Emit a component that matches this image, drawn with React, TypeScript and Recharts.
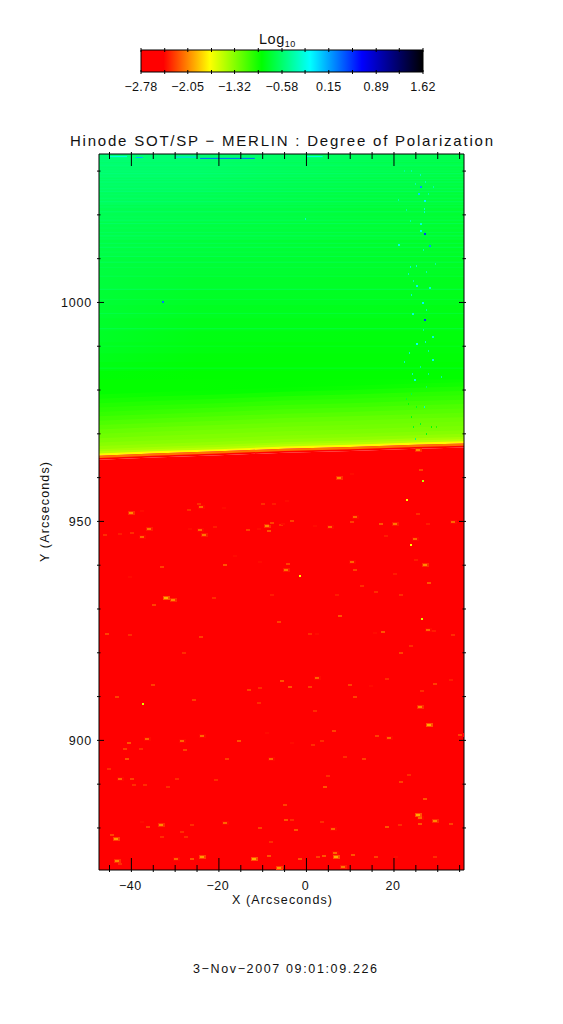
import React from "react";
import { ComposedChart, Area, Scatter, XAxis, YAxis, ReferenceLine } from "recharts";

const FONT = "'Liberation Sans', Arial, sans-serif";
const titleText = "Hinode SOT/SP − MERLIN : Degree of Polarization";
const xTitleText = "X (Arcseconds)";
const yTitleText = "Y (Arcseconds)";
const footerText = "3−Nov−2007 09:01:09.226";

const xDomain = [-47.4, 36];
const yDomain = [870.4, 1033.9];
const xTicks = [-45, -40, -35, -30, -25, -20, -15, -10, -5, 0, 5, 10, 15, 20, 25, 30, 35];
const xMajor = [-40, -20, 0, 20];
const yTicks = [880, 890, 900, 910, 920, 930, 940, 950, 960, 970, 980, 990, 1000, 1010, 1020, 1030];
const yMajor = [900, 950, 1000];

const barTicks = [-2.78, -2.41, -2.05, -1.68, -1.32, -0.95, -0.58, -0.22, 0.15, 0.52, 0.89, 1.25, 1.62];
const barLabels: Record<string, string> = { "-2.78": "−2.78", "-2.05": "−2.05", "-1.32": "−1.32", "-0.58": "−0.58", "0.15": "0.15", "0.89": "0.89", "1.62": "1.62" };
const barValues = [{ x: -2.78, h: 1 }, { x: 1.62, h: 1 }];

// colour table: position on the bar and rgb
const tablePos = [0, 0.08, 0.244, 0.428, 0.6, 0.783, 1];
const tableRgb = [[255, 0, 0], [255, 0, 0], [255, 255, 0], [0, 255, 0], [0, 255, 255], [0, 0, 255], [0, 0, 0]];
const colorOf = (v: number) => {
  const p = Math.max(0, Math.min(1, (v + 2.78) / 4.4));
  let i = 0;
  while (i < tablePos.length - 2 && p > tablePos[i + 1]) i++;
  const t = (p - tablePos[i]) / (tablePos[i + 1] - tablePos[i]);
  const c = tableRgb[i].map((a, k) => Math.round(a + (tableRgb[i + 1][k] - a) * t));
  return `rgb(${c[0]},${c[1]},${c[2]})`;
};

// limb height along X
const limbX = [-47.4, -35, -20, -5, 10, 25, 36];
const limbY = [965.0, 965.5, 966.0, 966.6, 967.0, 967.5, 967.8];
const rows = limbX.map((x, i) => ({ x, limb: limbY[i] }));
const flatLimb = 966.4;
const tiltedBelow = 16;

// sky: height above limb, log10 value at skyColumns
const skyColumns = [-47.4, -25, -5, 15, 36];
const skyOffsets = [0, 0.5, 1, 1.5, 2.2, 3, 4, 5, 6, 7, 8, 9, 10, 11, 12, 13, 14, 16, 18, 20, 22, 24.5, 27, 30, 33, 36.5, 40, 44, 48, 52, 56, 59, 62, 66];
const skyValues = [
  [-1.72, -1.72, -1.72, -1.72, -1.72],
  [-1.48, -1.48, -1.48, -1.48, -1.48],
  [-1.42, -1.42, -1.42, -1.42, -1.42],
  [-1.37, -1.37, -1.36, -1.36, -1.36],
  [-1.33, -1.33, -1.33, -1.32, -1.32],
  [-1.29, -1.3, -1.3, -1.29, -1.28],
  [-1.25, -1.27, -1.27, -1.26, -1.26],
  [-1.22, -1.24, -1.24, -1.24, -1.24],
  [-1.18, -1.2, -1.21, -1.21, -1.2],
  [-1.14, -1.16, -1.17, -1.17, -1.17],
  [-1.1, -1.12, -1.13, -1.13, -1.14],
  [-1.06, -1.08, -1.09, -1.09, -1.1],
  [-1.03, -1.04, -1.05, -1.05, -1.06],
  [-1.0, -1.0, -1.01, -1.02, -1.03],
  [-0.97, -0.96, -0.96, -0.97, -0.99],
  [-0.94, -0.92, -0.91, -0.93, -0.95],
  [-0.91, -0.91, -0.9, -0.91, -0.93],
  [-0.88, -0.9, -0.9, -0.9, -0.9],
  [-0.84, -0.88, -0.88, -0.88, -0.89],
  [-0.82, -0.87, -0.88, -0.88, -0.88],
  [-0.8, -0.85, -0.87, -0.87, -0.87],
  [-0.78, -0.84, -0.85, -0.86, -0.86],
  [-0.77, -0.82, -0.83, -0.84, -0.85],
  [-0.75, -0.8, -0.81, -0.82, -0.84],
  [-0.74, -0.78, -0.79, -0.8, -0.82],
  [-0.72, -0.76, -0.77, -0.79, -0.81],
  [-0.71, -0.74, -0.75, -0.77, -0.79],
  [-0.69, -0.72, -0.74, -0.76, -0.78],
  [-0.67, -0.7, -0.72, -0.74, -0.76],
  [-0.65, -0.68, -0.7, -0.73, -0.75],
  [-0.62, -0.65, -0.68, -0.71, -0.73],
  [-0.6, -0.62, -0.66, -0.69, -0.71],
  [-0.58, -0.6, -0.64, -0.67, -0.7],
  [-0.55, -0.56, -0.6, -0.63, -0.66],
];
// thin bands just under the limb
const rimOffsets = [-0.9, -0.5];
const rimValues = [-2.42, -2.1];

// horizontal scan streaks
const streakY = [1032.2, 1031.6, 1031.2, 1030.5, 1030, 1029.4, 1028.8, 1028.1, 1027.5, 1026.8, 1026, 1025.3, 1024.6, 1023.8, 1023, 1022.4, 1021.8, 1020.7, 1019.5, 1018.8, 1018, 1017, 1016, 1015.2, 1014.5, 1013.5, 1012.6, 1011.5, 1010.5, 1009.2, 1008, 1006, 1003, 1000.7, 997.5, 994, 990, 985];
const topStreaks = [
  [-24.3, -11.8, 1032.9, 0.35],
  [-39, -37.4, 1033.1, 0.1],
  [-45, -41, 1033.3, -0.2],
  [-30, -25, 1033.2, 0],
  [0, 3.7, 1033.3, -0.2],
];

// bright points on the disk: x, y, log10
const diskPoints = [
  [-36,948.3,-1.95],[-37.5,946.4,-2],[-39.8,947.3,-2.2],[-42.5,947.2,-2.25],[-40,952,-1.9],[-24.2,953.3,-2],[-24.6,954,-2.2],[-23.5,947,-1.95],[-24.4,948.1,-2],[-20.8,948.7,-2.25],
  [-26.5,948.3,-2.3],[-9,948.9,-1.9],[-7.8,949.6,-2.1],[-8.6,947.8,-2.05],[-10.9,948.3,-2.3],[-13.3,948.1,-2.15],[-10,954,-2.2],[-7.5,954,-2.25],[-18.9,953.1,-2.3],[-33,939.6,-2.1],
  [-18.5,940,-2.05],[-32.2,932.6,-1.8],[-30.5,932,-1.9],[-34.9,930.8,-2.1],[-7.8,933.3,-2.25],[-21.2,932.6,-2.2],[-6.3,927,-2.1],[-45.5,924.2,-2.1],[-40.4,924,-2.2],[-24,923.6,-2.15],
  [-28,920,-2.2],[-16.4,942.2,-2.3],[-10.7,940.7,-2.3],[-40.4,937.3,-2.3],[-26.9,952.5,-2.2],[-37.5,952.4,-2.3],[-45.1,953.3,-2.4],[-46.1,947,-2.2],[-5.9,949.1,-2.2],[-10.1,945.7,-2.35],
  [-3.2,950.2,-2.1],[-5.3,949.5,-2.3],[5.3,948.7,-2],[1.9,949,-2.3],[11.2,951.1,-2],[10.3,949.8,-2.15],[17.1,949.3,-2.05],[20.2,949.3,-1.95],[16.6,951.4,-2.35],[25.5,951.6,-2.2],
  [27.8,949.5,-2.25],[33.5,949.9,-2],[18.1,946.6,-2.25],[10.3,940.7,-2],[11.2,939,-2.1],[-4.2,940.3,-2.1],[-4.6,939,-1.95],[-1.7,937.8,-1.7],[20.2,937.9,-2.25],[25.1,941.1,-2.25],
  [27.2,940,-1.9],[28,935.9,-2.05],[21.7,933.3,-2.2],[7,933.1,-2.25],[7.75,928.5,-2.05],[16,933.9,-2.2],[12.8,935.2,-2.2],[17.5,924.7,-2.05],[0.75,924.4,-2.2],[2.3,924.2,-2.3],
  [15.6,924.5,-2.3],[29.1,925,-2.25],[21.7,920,-2.1],[24,921.5,-2.2],[-4.4,954.6,-2.3],[4.2,955.1,-2.4],[10.5,960.9,-2.3],[-4.2,963,-2.4],[7.4,960,-1.9],[26.5,959.4,-1.5],
  [22.8,955.2,-1.7],[25.5,966.2,-1.9],[26.2,961.7,-2.1],[23.7,944.8,-1.7],[24.9,946,-2],[26.2,927.9,-1.6],[27.8,925.3,-2],[33.5,924,-2.2],
  [-43.2,909.9,-2.1],[-35.1,912.7,-2.15],[-37.5,908.5,-1.6],[-25.7,909.3,-2.15],[-40.6,899.5,-2.05],[-41.5,898.1,-2.15],[-36.5,900.2,-2],[-37.7,898.1,-2.2],[-28.4,899.8,-2],[-27.8,897.9,-2.1],
  [-23.8,901.1,-2],[-15.3,899.9,-2.05],[-41,895.7,-2.05],[-8.2,895.8,-2],[-9,901.7,-2.3],[-10.9,908.5,-2.2],[-5.6,913.6,-2],[-10.5,911.9,-2.2],[-13.2,911.6,-2.1],[-42.7,891.1,-2],
  [-39.8,891.1,-2.1],[-39.3,889.9,-2.2],[-29.5,891.1,-2.2],[-36.9,889.7,-2.2],[-31.6,889.3,-2.2],[-20.6,891,-2.2],[-45.1,893.5,-2.2],[-18.1,895.7,-2.15],[-33.3,880.6,-1.9],[-36.2,880.2,-2.1],
  [-18.5,881.2,-2],[-26.1,880.6,-2.2],[-10.5,880,-2.1],[-43.6,877.5,-1.85],[-44.5,878.3,-2.1],[-33.1,877.9,-2.2],[-27.5,877.9,-2.2],[-28.4,879.1,-2.2],[-43.2,872.5,-1.9],[-42.5,871.8,-2.2],
  [-29.8,872.8,-2],[-23.8,873.3,-1.85],[-26.1,873,-2.05],[-12,872.8,-1.8],[-8.6,873.6,-2.05],[-6.3,870.9,-1.85],[-37.5,881.4,-2.3],[-8.2,876.8,-2.2],
  [-5.5,913.6,-2.05],[-3.7,912.3,-2.05],[2.5,914.2,-2],[0.75,912.2,-2.15],[10,912.6,-2.1],[11.2,909.9,-2.1],[14.8,912.4,-2.3],[18.3,914.1,-2.2],[26.5,911.2,-2.2],[29.3,912.9,-2.15],
  [33.1,913.9,-2.25],[25.9,907.6,-1.9],[1.9,906.8,-2.2],[6.3,902.2,-2.1],[16.1,901.1,-2.15],[18.9,900.6,-2],[1.5,898.9,-2.2],[3.6,899.8,-2.2],[35,901.3,-2.1],[-3.3,899.3,-2.3],
  [8.7,896.2,-2.2],[13.2,895.8,-2.1],[4.9,891.8,-2.2],[4.2,889.3,-2.05],[21.7,890.5,-2.1],[23.4,892,-2.2],[27,886.7,-2.05],[-5,885.3,-2.1],[-4.6,881.9,-2.05],[-3.4,881.8,-2.2],
  [-2.4,879.5,-2.05],[6.1,879.8,-2],[3.6,881.4,-2.2],[18.3,880.2,-2.05],[21.3,880.6,-2.2],[25.9,882.2,-2],[29.3,881.5,-1.9],[25.9,881,-2.05],[33.1,881,-2.1],[6.7,873.3,-1.8],
  [6.5,874.3,-2],[2.65,873.4,-2.15],[4,873.7,-2.05],[10.6,873.9,-2.05],[-1.4,873,-2.05],[16,873.3,-2.1],[8.4,871,-1.95],[29.3,873.4,-2.2],[20.5,873.4,-2.3],[25.5,882.9,-1.8],[28.1,903.4,-1.8],
].map(([x, y, v]) => ({ x, y, v }));

// noisy column above the limb: x, y, log10
const skyPoints = [
  [26.85,1015.7,0.5],[26.85,995.9,0.5],[25.9,1026.3,0.2],[25.5,1024.7,0],[26.85,1023.1,-0.1],[26.85,1021.4,-0.3],[26.85,1020.6,-0.3],[25.9,1016.4,-0.2],[28,1013,0.2],[20.9,1013.2,-0.2],
  [23.6,1008.1,-0.3],[25,1008.4,-0.3],[23.2,1006.5,-0.35],[25.1,1003.7,-0.1],[23.8,1001.6,-0.3],[26.5,999.8,-0.1],[24.1,997.4,-0.25],[28.1,1003.3,-0.25],[28.8,992.1,-0.25],[25,990.6,-0.15],
  [27,990.9,-0.3],[23.4,988.5,-0.3],[22.2,986.4,-0.35],[28.8,986.8,-0.2],[24.1,983.6,-0.35],[24.6,982.2,-0.2],[30.8,983,-0.4],[26.85,976.1,-0.3],[24.7,968.9,-0.5],[25.9,1029,-0.35],
  [27,1027.5,-0.35],[20.9,1023.3,-0.4],[28.9,1026.3,-0.4],[-0.4,1019.1,-0.3],[-33,1000,0.3],[24,973.8,-0.85],[25.1,976.1,-0.8],[25.9,972.3,-0.8],[27.4,970,-0.85],[23.2,976.9,-0.9],
  [24.3,971.5,-0.8],[28.5,971.5,-0.9],[29.7,971.5,-1],[22.4,1030.1,-0.45],[23.9,1030.1,-0.4],[24.7,1027.1,-0.4],[27.8,1024.8,-0.4],[22.8,1021,-0.45],[23.6,1018.7,-0.4],[25.9,1018,-0.25],
  [26.6,1011.9,-0.4],[27.4,1006.9,-0.4],[29.3,1008.8,-0.45],[24.3,1005,-0.4],[27.4,998.2,-0.4],[26.6,993.6,-0.45],[27.8,989,-0.4],[25.9,985.2,-0.45],[27.8,983.7,-0.45],[27.4,980.7,-0.6],
  [24,979.1,-0.7],[22.8,978,-0.75],
].map(([x, y, v]) => ({ x, y, v }));

const DiskSpot = (p: any) => {
  const v = p.payload.v;
  const cx = Math.round(p.cx);
  const cy = Math.round(p.cy);
  if (v > -1.75) return <rect x={cx} y={cy} width={2} height={2} fill={colorOf(v)} />;
  const big = v > -2.12;
  return big ? (
    <g>
      <rect x={cx - 3} y={cy - 2} width={7} height={4} fill={colorOf(v - 0.4)} />
      <rect x={cx - 2} y={cy - 1} width={4} height={2} fill={colorOf(v - 0.14)} />
    </g>
  ) : (
    <g>
      <rect x={cx - 2} y={cy - 1} width={4} height={2} fill={colorOf(v - 0.1)} />
    </g>
  );
};
const SkySpot = (p: any) => {
  const v = p.payload.v;
  const wide = v > -0.3 ? 2 : 1;
  return <rect x={Math.round(p.cx)} y={Math.round(p.cy) - 1} width={wide} height={2} fill={colorOf(v)} />;
};

const xTick = (dir: number, labelled: boolean) => (p: any) => {
  const v = p.payload.value;
  const major = xMajor.includes(v);
  const text = String(v).replace("-", "−");
  return (
    <g>
      <line x1={p.x} x2={p.x} y1={p.y} y2={p.y + dir * (major ? 14 : 7)} stroke="#000" />
      {labelled && major && (
        <text x={p.x - 1} y={p.y + 18} textAnchor="middle" fontFamily={FONT} fontSize={12.5} letterSpacing={0.6} fill="#111">{text}</text>
      )}
    </g>
  );
};
const yTick = (dir: number, labelled: boolean) => (p: any) => {
  const v = p.payload.value;
  const major = yMajor.includes(v);
  return (
    <g>
      <line y1={p.y} y2={p.y} x1={p.x} x2={p.x + dir * (major ? 7 : 3.5)} stroke="#000" />
      {labelled && major && (
        <text x={p.x - 5} y={p.y + 4.5} textAnchor="end" fontFamily={FONT} fontSize={12.5} letterSpacing={0.8} fill="#111">{v}</text>
      )}
    </g>
  );
};
const barTickBottom = (p: any) => {
  const label = barLabels[String(p.payload.value)];
  return (
    <g>
      <line x1={p.x} x2={p.x} y1={p.y} y2={p.y - 4} stroke="#000" />
      {label && <text x={p.x} y={p.y + 17} textAnchor="middle" fontFamily={FONT} fontSize={12.5} letterSpacing={0.3} fill="#111">{label}</text>}
    </g>
  );
};
const barTickTop = (p: any) => <line x1={p.x} x2={p.x} y1={p.y} y2={p.y + 4} stroke="#000" />;
const noText = () => <g />;

const ColorBar = () => (
  <div style={{ position: "absolute", left: 0, top: 0 }}>
    <ComposedChart width={563} height={110} data={barValues} margin={{ left: 140, right: 139, top: 49, bottom: 37 }}>
      <defs>
        <linearGradient id="barFill" x1="0" x2="1" y1="0" y2="0">
          {tablePos.map((p, i) => (
            <stop key={i} offset={p} stopColor={`rgb(${tableRgb[i].join(",")})`} />
          ))}
        </linearGradient>
      </defs>
      <Area dataKey="h" type="linear" stroke="none" fill="url(#barFill)" fillOpacity={1} isAnimationActive={false} dot={false} activeDot={false} />
      <XAxis dataKey="x" type="number" domain={[-2.78, 1.62]} ticks={barTicks} interval={0} height={1} tickSize={0} tickLine={false} tick={barTickBottom} stroke="#000" allowDataOverflow />
      <XAxis xAxisId="top" orientation="top" dataKey="x" type="number" domain={[-2.78, 1.62]} ticks={barTicks} interval={0} height={1} tickSize={0} tickLine={false} tick={barTickTop} stroke="#000" allowDataOverflow />
      <YAxis domain={[0, 1]} width={1} tick={noText} tickLine={false} stroke="#000" />
      <YAxis yAxisId="right" orientation="right" domain={[0, 1]} width={1} tick={noText} tickLine={false} stroke="#000" />
      <text x={259} y={44} fontFamily={FONT} fontSize={14.5} fill="#111" letterSpacing={0.5}>Log<tspan fontSize={9} dy={3}>10</tspan></text>
    </ComposedChart>
  </div>
);

const MainPlot = () => (
  <div style={{ position: "absolute", left: 0, top: 0 }}>
    <ComposedChart width={563} height={1024} data={rows} margin={{ left: 98, right: 98, top: 153, bottom: 153 }}>
      <defs>
        {skyValues.map((vals, i) => (
          <linearGradient key={i} id={`sky${i}`} x1="0" x2="1" y1="0" y2="0">
            {vals.map((v, k) => (
              <stop key={k} offset={(skyColumns[k] - xDomain[0]) / (xDomain[1] - xDomain[0])} stopColor={colorOf(v)} />
            ))}
          </linearGradient>
        ))}
      </defs>
      {skyOffsets.map((o, i) => (
        <Area key={i} dataKey={(d: any) => [(o < tiltedBelow ? d.limb : flatLimb) + o, yDomain[1]]} type="linear" stroke="none" fill={`url(#sky${i})`} fillOpacity={1} isAnimationActive={false} dot={false} activeDot={false} />
      ))}
      {rimOffsets.map((o, i) => (
        <Area key={i} dataKey={(d: any) => [d.limb + o, d.limb + 0.01]} type="linear" stroke="none" fill={colorOf(rimValues[i])} fillOpacity={1} isAnimationActive={false} dot={false} activeDot={false} />
      ))}
      <Area dataKey={(d: any) => [yDomain[0], d.limb - 0.9]} type="linear" stroke="none" fill={colorOf(-2.78)} fillOpacity={1} isAnimationActive={false} dot={false} activeDot={false} />
      {streakY.map((y, i) => (
        <ReferenceLine key={i} y={y} stroke={colorOf(-0.42)} strokeOpacity={0.14 + (i % 3) * 0.08} strokeWidth={1} />
      ))}
      {topStreaks.map(([a, b, y, v], i) => (
        <ReferenceLine key={i} segment={[{ x: a, y }, { x: b, y }]} stroke={colorOf(v)} strokeWidth={1} />
      ))}
      <Scatter data={skyPoints} dataKey="y" shape={SkySpot} isAnimationActive={false} />
      <Scatter data={diskPoints} dataKey="y" shape={DiskSpot} isAnimationActive={false} />
      <XAxis dataKey="x" type="number" domain={xDomain} ticks={xTicks} interval={0} height={1} tickSize={0} tickLine={false} tick={xTick(-1, true)} stroke="#000" allowDataOverflow />
      <XAxis xAxisId="top" orientation="top" dataKey="x" type="number" domain={xDomain} ticks={xTicks} interval={0} height={1} tickSize={0} tickLine={false} tick={xTick(1, false)} stroke="#000" allowDataOverflow />
      <YAxis dataKey="y" type="number" domain={yDomain} ticks={yTicks} interval={0} width={1} tickSize={0} tickLine={false} tick={yTick(1, true)} stroke="#000" allowDataOverflow />
      <YAxis yAxisId="right" orientation="right" dataKey="y" type="number" domain={yDomain} ticks={yTicks} interval={0} width={1} tickSize={0} tickLine={false} tick={yTick(-1, false)} stroke="#000" allowDataOverflow />
      <text x={70} y={146} fontFamily={FONT} fontSize={15} textLength={423} lengthAdjust="spacing" fill="#111">{titleText}</text>
      <text x={232} y={904} fontFamily={FONT} fontSize={12.5} textLength={100} lengthAdjust="spacing" fill="#111">{xTitleText}</text>
      <text transform="translate(49,562) rotate(-90)" fontFamily={FONT} fontSize={12.5} textLength={100} lengthAdjust="spacing" fill="#111">{yTitleText}</text>
      <text x={193} y={973} fontFamily={FONT} fontSize={12.5} textLength={184} lengthAdjust="spacing" fill="#111">{footerText}</text>
    </ComposedChart>
  </div>
);

export default function App() {
  return (
    <div style={{ position: "absolute", left: 0, top: 0, width: 563, height: 1024, background: "#fff" }}>
      <MainPlot />
      <ColorBar />
    </div>
  );
}
